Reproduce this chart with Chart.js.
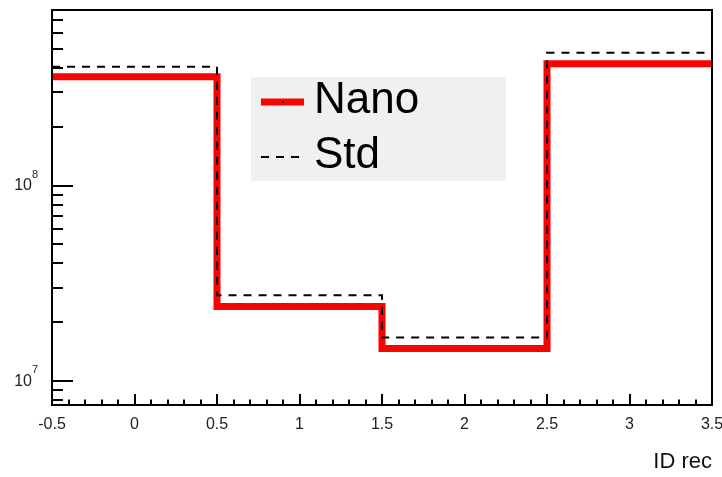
<!DOCTYPE html>
<html>
<head>
<meta charset="utf-8">
<script src="https://cdn.jsdelivr.net/npm/chart.js@4/dist/chart.umd.min.js"></script>
<style>
    html, body { margin: 0; padding: 0; background: #fff; }
    #wrap { width: 722px; height: 477px; }
</style>
</head>
<body>
<div id="wrap"><canvas id="chart" width="722" height="477"></canvas></div>
<script>
// histogram bins (bin centres) and contents
const bins = [0, 1, 2, 3];
const nanoValues = [3.6e8, 2.41e7, 1.47e7, 4.19e8];
const stdValues = [4.05e8, 2.75e7, 1.67e7, 4.77e8];
const xTickValues = [-0.5, 0, 0.5, 1, 1.5, 2, 2.5, 3, 3.5];
const yTickValues = [1e7, 1e8];
const yTickExponents = ['7', '8'];
const xRange = [-0.5, 3.5];
const yRange = [7.55e6, 7.9e8];

const FONT = '"Liberation Sans", Arial, Helvetica, sans-serif';

// step outline: one point per left bin edge, plus the last right edge
function histPoints(values) {
    const pts = bins.map((b, i) => ({ x: b - 0.5, y: values[i] }));
    pts.push({ x: bins[bins.length - 1] + 0.5, y: values[values.length - 1] });
    return pts;
}

// ROOT-like frame, inner ticks, y labels and legend
const rootStyle = {
    id: 'rootStyle',
    afterDatasetsDraw(chart) {
        const ctx = chart.ctx;
        const a = chart.chartArea;
        const xs = chart.scales.x;
        const ys = chart.scales.y;
        ctx.save();
        ctx.strokeStyle = '#000';
        ctx.lineWidth = 2;
        ctx.setLineDash([]);

        // x ticks every 0.1, major every 0.5
        ctx.beginPath();
        for (let i = 1; i < 40; i++) {
            const v = xRange[0] + i * 0.1;
            const px = Math.round(xs.getPixelForValue(v));
            const len = i % 5 === 0 ? 11 : 5.5;
            ctx.moveTo(px, a.bottom);
            ctx.lineTo(px, a.bottom - len);
        }
        // y ticks at 1..9 x 10^n
        for (let d = 6; d <= 8; d++) {
            for (let m = 1; m <= 9; m++) {
                const v = m * Math.pow(10, d);
                if (v <= yRange[0] || v >= yRange[1]) continue;
                const py = Math.round(ys.getPixelForValue(v));
                const len = m === 1 ? 21 : 11;
                ctx.moveTo(a.left, py);
                ctx.lineTo(a.left + len, py);
            }
        }
        ctx.stroke();

        // frame
        ctx.strokeRect(a.left, a.top, a.right - a.left, a.bottom - a.top);

        // y labels 10^n
        ctx.fillStyle = '#222';
        yTickValues.forEach((v, i) => {
            const py = ys.getPixelForValue(v);
            ctx.font = '16px ' + FONT;
            ctx.textAlign = 'right';
            ctx.textBaseline = 'middle';
            ctx.fillText('10', 32, py);
            ctx.font = '11px ' + FONT;
            ctx.textAlign = 'left';
            ctx.fillText(yTickExponents[i], 32, py - 11);
        });

        // legend
        const box = { x: 251, y: 77, w: 255, h: 104 };
        ctx.fillStyle = '#f0f0f0';
        ctx.fillRect(box.x, box.y, box.w, box.h);
        const rows = [102, 157];
        chart.data.datasets.forEach((ds, i) => {
            const y = rows[i];
            ctx.strokeStyle = ds.borderColor;
            ctx.lineWidth = ds.borderWidth;
            ctx.setLineDash(ds.borderDash || []);
            ctx.beginPath();
            ctx.moveTo(261, y);
            ctx.lineTo(i === 0 ? 304 : 300, y);
            ctx.stroke();
            if (i === 0) {
                ctx.fillStyle = '#000';
                ctx.fillRect(282, y - 1, 2, 2);
            }
            ctx.setLineDash([]);
            ctx.fillStyle = '#000';
            ctx.font = '44px ' + FONT;
            ctx.textAlign = 'left';
            ctx.textBaseline = 'alphabetic';
            ctx.fillText(ds.label, 314, y + 11);
        });
        ctx.restore();
    }
};

const ctx = document.getElementById('chart').getContext('2d');
new Chart(ctx, {
    type: 'line',
    data: {
        datasets: [
            {
                label: 'Nano',
                data: histPoints(nanoValues),
                borderColor: '#ff0000',
                borderWidth: 7,
                stepped: 'before',
                pointRadius: 0,
                fill: false,
                borderJoinStyle: 'miter',
                borderCapStyle: 'butt',
                order: 2
            },
            {
                label: 'Std',
                data: histPoints(stdValues),
                borderColor: '#000000',
                borderWidth: 2,
                borderDash: [8, 7],
                stepped: 'before',
                pointRadius: 0,
                fill: false,
                borderJoinStyle: 'miter',
                order: 1
            }
        ]
    },
    options: {
        responsive: false,
        animation: false,
        layout: { padding: { top: 10, right: 10, left: 0, bottom: 0 } },
        plugins: {
            legend: { display: false },
            tooltip: { enabled: false }
        },
        scales: {
            x: {
                type: 'linear',
                min: xRange[0],
                max: xRange[1],
                grid: { display: false, drawTicks: false },
                border: { display: false },
                afterBuildTicks: (scale) => {
                    scale.ticks = xTickValues.map(v => ({ value: v }));
                },
                afterFit: (scale) => {
                    scale.height = 72;
                    scale.paddingLeft = 0;
                    scale.paddingRight = 0;
                },
                ticks: {
                    color: '#222',
                    padding: 10,
                    maxRotation: 0,
                    autoSkip: false,
                    font: { family: FONT, size: 16 },
                    callback: (v) => String(v)
                },
                title: {
                    display: true,
                    text: 'ID rec',
                    align: 'end',
                    color: '#111',
                    font: { family: FONT, size: 22 },
                    padding: { top: 0, bottom: 2 }
                }
            },
            y: {
                type: 'logarithmic',
                min: yRange[0],
                max: yRange[1],
                grid: { display: false, drawTicks: false },
                border: { display: false },
                ticks: { display: false },
                afterFit: (scale) => {
                    scale.width = 52;
                }
            }
        }
    },
    plugins: [rootStyle]
});
</script>
</body>
</html>
